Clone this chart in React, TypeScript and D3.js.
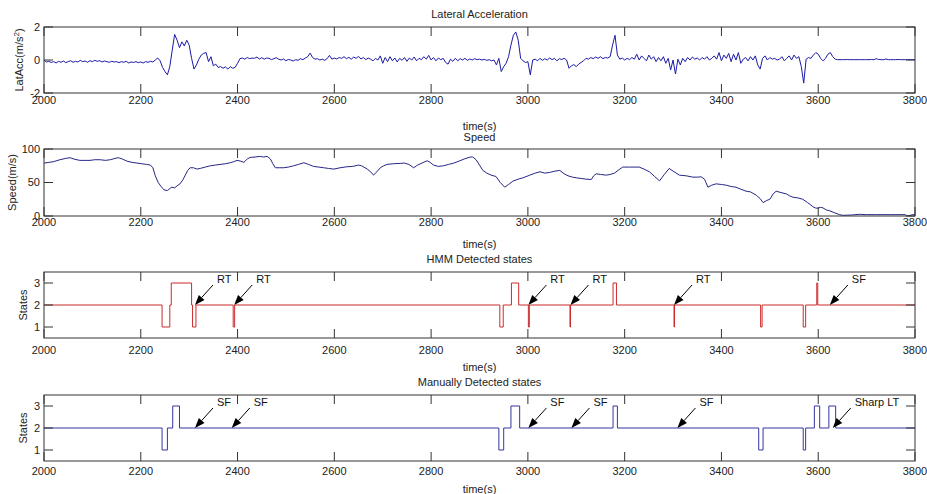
import * as d3 from 'd3'

// time axis ticks (s)
const xTicks = [2000, 2200, 2400, 2600, 2800, 3000, 3200, 3400, 3600, 3800]

// lateral acceleration, one sample every 5 s from 2000 s
const latAcc = [
  -0.02, -0.12, -0.08, -0.15, -0.10, -0.18, -0.08, -0.14, -0.06, -0.16,
  -0.10, -0.04, -0.14, -0.08, -0.12, -0.02, -0.10, -0.06, -0.14, -0.04,
  -0.10, -0.02, -0.08, -0.04, -0.12, -0.06, -0.10, -0.14, -0.08, -0.12,
  -0.10, -0.16, -0.10, -0.14, -0.08, -0.18, -0.12, -0.15, -0.10, -0.16,
  -0.12, -0.18, -0.10, -0.14, -0.08, -0.12, 0.00, 0.12, -0.05, -0.45,
  -0.70, -0.90, -0.40, 0.60, 1.55, 1.20, 0.75, 1.10, 0.85, 1.20,
  0.90, 0.10, -0.55, -0.30, 0.05, 0.30, 0.40, 0.45, -0.10, 0.20,
  -0.35, -0.25, -0.45, -0.40, -0.50, -0.42, -0.55, -0.40, -0.50, -0.45,
  -0.20, 0.08, 0.12, 0.05, 0.15, 0.08, 0.12, 0.10, 0.18, 0.06,
  0.14, 0.05, 0.12, 0.10, 0.02, 0.08, 0.14, 0.05, 0.00, 0.06,
  -0.04, 0.03, 0.00, -0.06, 0.02, -0.02, 0.08, 0.02, 0.12, 0.20,
  0.42, 0.15, 0.05, 0.08, 0.00, 0.05, -0.02, 0.08, 0.28, 0.05,
  0.12, 0.06, 0.15, 0.10, 0.20, 0.08, 0.16, 0.05, 0.18, 0.10,
  0.22, 0.06, 0.15, 0.02, 0.12, 0.05, -0.05, 0.10, 0.00, 0.25,
  -0.20, 0.15, -0.10, 0.20, -0.05, 0.12, -0.12, 0.10, -0.02, 0.15,
  -0.08, 0.12, 0.00, 0.18, -0.05, 0.10, 0.02, 0.20, 0.05, 0.28,
  0.00, 0.15, -0.05, 0.12, 0.02, 0.10, -0.15, -0.25, 0.05, -0.08,
  0.10, -0.05, 0.08, 0.00, 0.10, -0.02, 0.06, 0.00, 0.08, 0.02,
  0.05, 0.00, 0.04, -0.02, 0.02, -0.05, 0.00, -0.30, 0.10, -0.70,
  -0.40, -0.20, 0.20, 0.90, 1.50, 1.70, 1.20, 0.10, -0.05, -0.15,
  -0.10, -0.90, 0.00, 0.05, -0.05, 0.10, -0.02, 0.08, 0.00, 0.12,
  0.02, 0.10, -0.05, 0.08, 0.03, 0.10, 0.00, -0.50, -0.35, -0.28,
  -0.40, -0.25, -0.15, -0.05, 0.10, 0.05, 0.15, 0.08, 0.18, 0.10,
  0.20, 0.08, 0.15, 0.12, 0.20, 0.90, 1.50, 0.30, 0.05, 0.12,
  0.00, 0.10, 0.02, 0.15, 0.05, 0.35, 0.00, 0.25, 0.10, -0.05,
  0.30, 0.05, 0.20, -0.10, 0.15, -0.05, 0.20, -0.20, 0.10, -0.60,
  0.00, -0.85, 0.05, -0.30, 0.10, -0.10, 0.15, 0.00, 0.18, 0.05,
  0.12, 0.00, 0.15, 0.05, 0.20, 0.00, 0.10, 0.25, 0.05, 0.45,
  -0.05, 0.30, 0.10, 0.40, -0.10, 0.35, 0.00, 0.45, -0.20, 0.05,
  0.15, -0.05, 0.20, 0.00, 0.25, -0.30, -0.55, 0.10, 0.25, 0.00,
  0.15, 0.05, 0.10, 0.00, 0.05, 0.20, -0.05, 0.10, 0.25, 0.00,
  0.30, 0.10, 0.20, -0.40, -1.40, 0.05, 0.15, 0.10, 0.30, 0.45,
  0.35, 0.10, -0.05, 0.10, 0.35, 0.45, 0.20, 0.05, 0.02, 0.02,
  0.02, 0.02, 0.03, 0.02, 0.02, 0.02, 0.02, 0.02, 0.02, 0.02,
  0.02, 0.02, 0.03, 0.02, 0.08, 0.03, 0.02, 0.02, 0.06, 0.02,
  0.02, 0.02, 0.02, 0.03, 0.02, 0.02, 0.02, 0.02, 0.02, 0.02,
  0.02,
]
const latStep = 5

// speed (m/s)
const speedTime = [
  2000, 2010, 2019, 2033, 2045, 2054, 2062, 2074, 2085, 2095, 2105, 2116, 2127, 2137, 2147,
  2154, 2162, 2171, 2182, 2192, 2202, 2212, 2220, 2225, 2230, 2236, 2242, 2248, 2255, 2260,
  2264, 2270, 2275, 2281, 2287, 2292, 2297, 2302, 2309, 2316, 2323, 2333, 2344, 2354, 2364,
  2375, 2385, 2392, 2399, 2406, 2413, 2420, 2426, 2436, 2447, 2454, 2461, 2468, 2473, 2478,
  2486, 2495, 2505, 2516, 2526, 2537, 2547, 2557, 2568, 2578, 2588, 2599, 2612, 2626, 2638,
  2650, 2656, 2661, 2668, 2675, 2681, 2688, 2695, 2702, 2709, 2722, 2736, 2745, 2754, 2764,
  2772, 2781, 2792, 2798, 2805, 2815, 2826, 2836, 2847, 2858, 2868, 2881, 2886, 2893, 2900,
  2907, 2915, 2924, 2934, 2943, 2952, 2960, 2969, 2980, 2990, 3004, 3015, 3025, 3035, 3045,
  3056, 3066, 3075, 3083, 3092, 3100, 3110, 3120, 3131, 3136, 3141, 3150, 3162, 3170, 3179,
  3188, 3196, 3210, 3230, 3240, 3251, 3262, 3272, 3282, 3292, 3300, 3313, 3327, 3341, 3350,
  3358, 3365, 3368, 3372, 3380, 3389, 3400, 3410, 3420, 3430, 3440, 3451, 3460, 3472, 3480,
  3486, 3493, 3500, 3507, 3513, 3523, 3534, 3541, 3548, 3558, 3568, 3578, 3589, 3594, 3599,
  3605, 3610, 3617, 3623, 3633, 3644, 3651, 3670, 3685, 3700, 3720, 3750, 3780, 3784, 3790,
  3795, 3800,
]
const speedValue = [
  79, 80, 81, 84, 86, 87, 85, 83, 83, 83, 84, 84, 83, 84, 86,
  87, 85, 82, 80, 79, 78, 77, 76, 72, 60, 50, 44, 39, 38, 41,
  43, 42, 45, 48, 54, 61, 68, 72, 72, 70, 71, 73, 75, 76, 77,
  78, 79.5, 81, 83, 82, 80, 85, 87.5, 88, 89, 88, 89, 85, 78, 72,
  72, 72, 73, 75, 77, 79.5, 77, 74, 73, 72, 71, 70, 72, 73.5, 74,
  76, 75, 73, 70, 66, 61, 66, 72, 75, 77, 78, 78.5, 79, 77, 72,
  76, 79, 82.5, 80, 76, 74, 75, 77, 79, 82, 85, 88, 88, 84, 76,
  68, 64, 61, 59, 50, 43, 47, 52, 55, 57, 61, 64, 66, 64, 65,
  67, 68, 63, 60, 58, 57, 56, 55, 54.5, 60, 63, 62, 61, 62, 64,
  69, 73, 73, 73, 70, 66, 59, 52.5, 62, 71, 67, 61, 60, 58, 58,
  58.5, 55, 50, 43, 46, 48, 47, 46, 44, 43, 40, 37, 36, 31, 26,
  20, 23, 25, 33, 37, 35, 33, 30, 28, 27, 25, 20, 14, 12, 11.5,
  13, 12, 9, 8, 5, 2, 1, 1.5, 2.5, 2, 2, 2, 2, 0, 1,
  2, 2,
]

// HMM detected states (value holds from each change time)
const hmmTime = [2000, 2244, 2260, 2263, 2305, 2307, 2314, 2391, 2394, 2942, 2949, 2966, 2981, 3001, 3003,
  3087, 3088, 3176, 3183, 3302, 3303, 3481, 3484, 3569, 3574, 3597, 3599, 3800]
const hmmState = [2, 1, 2, 3, 2, 1, 2, 1, 2, 1, 2, 3, 2, 1, 2,
  1, 2, 3, 2, 1, 2, 1, 2, 1, 2, 3, 2, 2]

// manually detected states
const manualTime = [2000, 2244, 2255, 2266, 2280, 2940, 2950, 2965, 2983, 3176, 3185, 3477, 3486, 3569, 3574,
  3592, 3603, 3622, 3636, 3800]
const manualState = [2, 1, 2, 3, 2, 1, 2, 3, 2, 3, 2, 1, 2, 1, 2,
  3, 2, 3, 2, 2]

// annotated events (arrow tip on state 2)
const hmmNoteTime = [2312, 2393, 3001, 3088, 3302, 3624]
const hmmNoteLabel = ['RT', 'RT', 'RT', 'RT', 'RT', 'SF']
const manualNoteTime = [2312, 2388, 3001, 3090, 3309, 3630]
const manualNoteLabel = ['SF', 'SF', 'SF', 'SF', 'SF', 'Sharp LT']

const W = 927
const H = 494
const X0 = 44
const X1 = 915
const TICK = 9
const FONT = '"Liberation Sans", Arial, Helvetica, sans-serif'
const x = d3.scaleLinear().domain([2000, 3800]).range([X0, X1])

type Series = { pts: [number, number][]; color: string; step?: boolean }
type PanelProps = {
  id: string
  top: number
  bottom: number
  domain: [number, number]
  yTicks: number[]
  title: string
  titleY: number
  tickY: number
  xlabelY: number
  ylabel: React.ReactNode
  ylabelX: number
  series: Series[]
  notes?: { t: number; v: number; label: string }[]
}

const Panel = (p: PanelProps) => {
  const y = d3.scaleLinear().domain(p.domain).range([p.bottom, p.top])
  const cx = (X0 + X1) / 2
  return (
    <g>
      <defs>
        <clipPath id={`clip-${p.id}`}>
          <rect x={X0} y={p.top} width={X1 - X0} height={p.bottom - p.top} />
        </clipPath>
      </defs>
      <rect x={X0} y={p.top} width={X1 - X0} height={p.bottom - p.top} fill="#fff" />
      <g clipPath={`url(#clip-${p.id})`}>
        {p.series.map((s, i) => {
          const line = d3.line<[number, number]>()
            .x(d => x(d[0]))
            .y(d => y(d[1]))
            .curve(s.step ? d3.curveStepAfter : d3.curveLinear)
          return <path key={i} d={line(s.pts) || ''} fill="none" stroke={s.color} strokeWidth={1} />
        })}
      </g>
      {/* ticks, inward on all four sides */}
      {xTicks.map(t => (
        <g key={t} stroke="#333" strokeWidth={1}>
          <line x1={x(t)} x2={x(t)} y1={p.bottom} y2={p.bottom - TICK} />
          <line x1={x(t)} x2={x(t)} y1={p.top} y2={p.top + TICK} />
        </g>
      ))}
      {p.yTicks.map(v => (
        <g key={v} stroke="#333" strokeWidth={1}>
          <line x1={X0} x2={X0 + TICK} y1={y(v)} y2={y(v)} />
          <line x1={X1} x2={X1 - TICK} y1={y(v)} y2={y(v)} />
        </g>
      ))}
      <rect x={X0} y={p.top} width={X1 - X0} height={p.bottom - p.top} fill="none" stroke="#333" strokeWidth={1} />
      <g fontFamily={FONT} fontSize={11} fill="#222">
        {xTicks.map(t => (
          <text key={t} x={x(t)} y={p.tickY} textAnchor="middle">{t}</text>
        ))}
        {p.yTicks.map(v => (
          <text key={v} x={X0 - 4} y={y(v)} dy="0.35em" textAnchor="end">{v}</text>
        ))}
        <text x={cx} y={p.titleY} textAnchor="middle">{p.title}</text>
        <text x={cx} y={p.xlabelY} textAnchor="middle">time(s)</text>
        <text transform={`translate(${p.ylabelX},${(p.top + p.bottom) / 2}) rotate(-90)`} textAnchor="middle">
          {p.ylabel}
        </text>
      </g>
      {(p.notes || []).map((n, i) => {
        const tx = x(n.t)
        const ty = y(n.v)
        const sx = tx + 18
        const sy = ty - 20
        const len = Math.hypot(tx - sx, ty - sy)
        const ux = (tx - sx) / len
        const uy = (ty - sy) / len
        const bx = tx - ux * 10
        const by = ty - uy * 10
        const px = -uy * 3.8
        const py = ux * 3.8
        return (
          <g key={i}>
            <line x1={sx} y1={sy} x2={bx} y2={by} stroke="#000" strokeWidth={1} />
            <polygon points={`${tx},${ty} ${bx + px},${by + py} ${bx - px},${by - py}`} fill="#000" />
            <text x={sx + 4} y={sy - 2} fontFamily={FONT} fontSize={11} fill="#111">{n.label}</text>
          </g>
        )
      })}
    </g>
  )
}

const zip = (a: number[], b: number[]) => a.map((v, i) => [v, b[i]] as [number, number])

export default function App() {
  const latPts = latAcc.map((v, i) => [2000 + i * latStep, v] as [number, number])
  const hmmNotes = hmmNoteTime.map((t, i) => ({ t, v: 2, label: hmmNoteLabel[i] }))
  const manNotes = manualNoteTime.map((t, i) => ({ t, v: 2, label: manualNoteLabel[i] }))
  return (
    <svg width={W} height={H} style={{ position: 'absolute', left: 0, top: 0, background: '#fff' }}>
      <rect width={W} height={H} fill="#fff" />
      <Panel
        id="lat" top={27} bottom={93} domain={[-2, 2]} yTicks={[-2, 0, 2]}
        title="Lateral Acceleration" titleY={18} tickY={104} xlabelY={130}
        ylabel={<>LatAcc(m/s<tspan dy={-4} fontSize={8}>2</tspan><tspan dy={4}>)</tspan></>}
        ylabelX={23}
        series={[{ pts: latPts, color: '#1a1aa8' }]}
      />
      <Panel
        id="spd" top={149} bottom={216} domain={[0, 100]} yTicks={[0, 50, 100]}
        title="Speed" titleY={141} tickY={226} xlabelY={248}
        ylabel="Speed(m/s)" ylabelX={16}
        series={[{ pts: zip(speedTime, speedValue), color: '#262686' }]}
      />
      <Panel
        id="hmm" top={272} bottom={338} domain={[0.5, 3.5]} yTicks={[1, 2, 3]}
        title="HMM Detected states" titleY={263} tickY={354} xlabelY={371}
        ylabel="States" ylabelX={27}
        series={[{ pts: zip(hmmTime, hmmState), color: '#cc2a2a', step: true }]}
        notes={hmmNotes}
      />
      <Panel
        id="man" top={395} bottom={461} domain={[0.5, 3.5]} yTicks={[1, 2, 3]}
        title="Manually Detected states" titleY={386} tickY={475} xlabelY={493}
        ylabel="States" ylabelX={27}
        series={[{ pts: zip(manualTime, manualState), color: '#3535a0', step: true }]}
        notes={manNotes}
      />
    </svg>
  )
}
